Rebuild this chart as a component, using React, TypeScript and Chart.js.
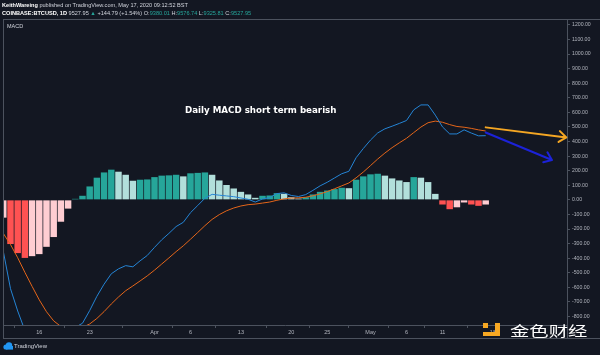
import React, { useEffect, useRef } from "react";
import { Chart, registerables } from "chart.js";

Chart.register(...registerables);

// Day index 0 = 2020-03-11 (daily bars)
const HIST = [
  -122, -303, -365, -398, -386, -372, -322, -255, -150, -60,
  7, 28, 92, 152, 188, 207, 193, 172, 131, 138,
  140, 156, 166, 168, 172, 161, 182, 185, 188, 172,
  133, 102, 78, 55, 37, 14, 28, 30, 46, 41,
  18, 9, 18, 37, 55, 64, 74, 83, 80, 138,
  161, 175, 179, 166, 147, 133, 122, 156, 152, 122,
  41, -32, -64, -51, -18, -32, -41, -32,
];

const MACD = [
  -352, -609, -762, -895, -979, -1058, -1089, -1085, -1018, -943,
  -874, -846, -759, -661, -578, -507, -473, -451, -459, -418,
  -381, -326, -274, -230, -183, -154, -88, -39, 11, 38,
  32, 27, 22, 13, 4, -15, 6, 15, 43, 48,
  30, 23, 36, 65, 96, 121, 150, 179, 196, 289,
  352, 410, 459, 487, 505, 524, 544, 617, 651, 651,
  581, 500, 452, 452, 480, 458, 439, 440,
];

const SIGNAL = [
  -230, -306, -397, -497, -593, -686, -767, -830, -868, -883,
  -881, -874, -851, -813, -766, -714, -666, -623, -590, -556,
  -521, -482, -440, -398, -355, -315, -270, -224, -177, -134,
  -101, -75, -56, -42, -33, -29, -22, -15, -3, 7,
  12, 14, 18, 28, 41, 57, 76, 96, 116, 151,
  191, 235, 280, 321, 358, 391, 422, 461, 499, 529,
  540, 532, 516, 503, 498, 490, 480, 472,
];

const X_TICK_POS = [5, 12, 21, 26, 33, 40, 45, 51, 56, 61, 68];
const X_TICK_LABELS = ["16", "23", "Apr", "6", "13", "20", "25", "May", "6", "11", "18"];

const Y_TICKS = [-800, -700, -600, -500, -400, -300, -200, -100, 0, 100, 200, 300, 400, 500, 600, 700, 800, 900, 1000, 1100, 1200];

const X_MIN = -0.04;
const X_MAX = 78.29;
const Y_MIN = -858;
const Y_MAX = 1240;

// annotation arrows in data units: [x index, value]
const ORANGE_ARROW = [[67, 497], [78.2, 428]];
const BLUE_ARROW = [[67, 462], [76.2, 273]];

const TEAL = "#26a69a";
const TEAL_LIGHT = "#b2dfdb";
const RED = "#ff5252";
const PINK = "#ffcdd2";

function barColors(vals: number[]) {
  return vals.map((v, i) => {
    const prev = i === 0 ? -Infinity : vals[i - 1];
    if (v >= 0) return v > prev ? TEAL : TEAL_LIGHT;
    return v < prev ? RED : PINK;
  });
}

const arrowPlugin = {
  id: "arrows",
  afterDatasetsDraw(chart: any) {
    const { ctx, scales } = chart;
    const xs = scales.x;
    const ys = scales.y;
    const draw = (pts: number[][], color: string) => {
      const x1 = xs.getPixelForValue(pts[0][0]);
      const y1 = ys.getPixelForValue(pts[0][1]);
      const x2 = xs.getPixelForValue(pts[1][0]);
      const y2 = ys.getPixelForValue(pts[1][1]);
      const ang = Math.atan2(y2 - y1, x2 - x1);
      const L = 9;
      ctx.save();
      ctx.strokeStyle = color;
      ctx.lineWidth = 2;
      ctx.lineCap = "round";
      ctx.lineJoin = "round";
      ctx.beginPath();
      ctx.moveTo(x1, y1);
      ctx.lineTo(x2, y2);
      ctx.moveTo(x2 - L * Math.cos(ang - 0.65), y2 - L * Math.sin(ang - 0.65));
      ctx.lineTo(x2, y2);
      ctx.lineTo(x2 - L * Math.cos(ang + 0.65), y2 - L * Math.sin(ang + 0.65));
      ctx.stroke();
      ctx.restore();
    };
    draw(ORANGE_ARROW, "#f4a623");
    draw(BLUE_ARROW, "#1c22d8");
  },
};

export default function App() {
  const ref = useRef<HTMLCanvasElement | null>(null);

  useEffect(() => {
    if (!ref.current) return;
    const xs = HIST.map((_, i) => i);
    const chart = new Chart(ref.current, {
      type: "bar",
      data: {
        datasets: [
          {
            type: "line",
            label: "MACD",
            data: xs.map((x) => ({ x, y: MACD[x] })),
            borderColor: "#2585d6",
            borderWidth: 1,
            pointRadius: 0,
            tension: 0,
            order: 0,
          } as any,
          {
            type: "line",
            label: "Signal",
            data: xs.map((x) => ({ x, y: SIGNAL[x] })),
            borderColor: "#e5661a",
            borderWidth: 1,
            pointRadius: 0,
            tension: 0,
            order: 1,
          } as any,
          {
            type: "bar",
            label: "Histogram",
            data: xs.map((x) => ({ x, y: HIST[x] })),
            backgroundColor: barColors(HIST),
            borderWidth: 0,
            barPercentage: 0.9,
            categoryPercentage: 1,
            order: 2,
          } as any,
        ],
      },
      options: {
        responsive: false,
        animation: false,
        devicePixelRatio: 1,
        layout: { padding: { left: 3, top: 19, right: 0, bottom: 17 } },
        plugins: {
          legend: { display: false },
          tooltip: { enabled: false },
        },
        scales: {
          x: {
            type: "linear",
            min: X_MIN,
            max: X_MAX,
            offset: false,
            afterBuildTicks: (scale: any) => {
              scale.ticks = X_TICK_POS.map((v) => ({ value: v }));
            },
            afterFit: (scale: any) => {
              scale.height = 13;
            },
            ticks: {
              autoSkip: false,
              maxRotation: 0,
              padding: 1,
              color: "#b2b5be",
              font: { size: 5.5, family: "Liberation Sans" },
              callback: (v: any) => {
                const k = X_TICK_POS.indexOf(Number(v));
                return k >= 0 ? X_TICK_LABELS[k] : "";
              },
            },
            grid: {
              display: true,
              drawOnChartArea: false,
              drawTicks: true,
              tickLength: 3,
              color: "#4c525e",
            },
            border: { display: true, color: "#4c525e" },
          },
          y: {
            type: "linear",
            position: "right",
            min: Y_MIN,
            max: Y_MAX,
            afterBuildTicks: (scale: any) => {
              scale.ticks = Y_TICKS.map((v) => ({ value: v }));
            },
            afterFit: (scale: any) => {
              scale.width = 33;
            },
            ticks: {
              autoSkip: false,
              padding: 2,
              color: "#b2b5be",
              font: { size: 5.2, family: "Liberation Sans" },
              callback: (v: any) => Number(v).toFixed(2),
            },
            grid: {
              display: true,
              drawOnChartArea: false,
              drawTicks: true,
              tickLength: 3,
              color: "#4c525e",
            },
            border: { display: true, color: "#4c525e" },
          },
        },
      },
      plugins: [arrowPlugin],
    });
    return () => chart.destroy();
  }, []);

  const line = (s: React.CSSProperties): React.CSSProperties => ({
    position: "absolute",
    background: "#4c525e",
    ...s,
  });

  return (
    <div
      style={{
        position: "fixed",
        left: 0,
        top: 0,
        width: 600,
        height: 355,
        background: "#131722",
        overflow: "hidden",
        fontFamily: "Liberation Sans, Arial, sans-serif",
      }}
    >
      <canvas
        ref={ref}
        width={600}
        height={355}
        style={{ position: "absolute", left: 0, top: 0, width: 600, height: 355 }}
      />
      {/* frame */}
      <div style={line({ left: 3, top: 19, width: 597, height: 1 })} />
      <div style={line({ left: 3, top: 19, width: 1, height: 320 })} />
      <div style={line({ left: 3, top: 338, width: 597, height: 1 })} />
      <div style={line({ left: 567, top: 325, width: 1, height: 14 })} />

      {/* header */}
      <div
        style={{
          position: "absolute",
          left: 2,
          top: 2,
          fontSize: 5.6,
          lineHeight: "7px",
          color: "#d1d4dc",
          whiteSpace: "nowrap",
        }}
      >
        <span style={{ fontWeight: "bold", color: "#ffffff" }}>KeithWareing</span> published on
        TradingView.com, May 17, 2020 09:12:52 BST
      </div>
      <div
        style={{
          position: "absolute",
          left: 2,
          top: 10,
          fontSize: 5.6,
          lineHeight: "7px",
          color: "#d1d4dc",
          whiteSpace: "nowrap",
        }}
      >
        <span style={{ fontWeight: "bold", color: "#ffffff" }}>COINBASE:BTCUSD, 1D</span> 9527.95{" "}
        <span style={{ color: TEAL }}>▲</span> +144.79 (+1.54%) O:
        <span style={{ color: TEAL }}>9380.01</span> H:
        <span style={{ color: TEAL }}>9576.74</span> L:
        <span style={{ color: TEAL }}>9325.81</span> C:
        <span style={{ color: TEAL }}>9527.95</span>
      </div>
      <div
        style={{
          position: "absolute",
          left: 7,
          top: 23,
          fontSize: 5.5,
          lineHeight: "7px",
          color: "#d1d4dc",
        }}
      >
        MACD
      </div>

      {/* annotation */}
      <div
        style={{
          position: "absolute",
          left: 185,
          top: 105,
          fontSize: 8.7,
          lineHeight: "10px",
          fontWeight: "bold",
          fontFamily: "DejaVu Sans, Verdana, sans-serif",
          color: "#ffffff",
          whiteSpace: "nowrap",
        }}
      >
        Daily MACD short term bearish
      </div>

      {/* TradingView footer */}
      <svg
        style={{ position: "absolute", left: 3, top: 342 }}
        width={10}
        height={8}
        viewBox="0 0 10 8"
      >
        <circle cx={3} cy={5} r={2.6} fill="#2196f3" />
        <circle cx={6} cy={3.5} r={3.2} fill="#2196f3" />
        <rect x={3} y={4} width={7} height={3.6} fill="#2196f3" />
      </svg>
      <div
        style={{
          position: "absolute",
          left: 14,
          top: 343,
          fontSize: 6,
          lineHeight: "7px",
          color: "#d1d4dc",
        }}
      >
        TradingView
      </div>

      {/* watermark */}
      <div style={{ position: "absolute", left: 483, top: 323, width: 5, height: 5, background: "#f7a823" }} />
      <div style={{ position: "absolute", left: 495, top: 323, width: 5, height: 13, background: "#f7a823" }} />
      <div style={{ position: "absolute", left: 483, top: 332, width: 17, height: 4, background: "#f7a823" }} />
      <div
        style={{
          position: "absolute",
          left: 510,
          top: 321,
          fontSize: 14,
          lineHeight: "18px",
          color: "#ffffff",
          fontFamily: "Noto Sans CJK SC, sans-serif",
          transform: "scaleX(1.38)",
          transformOrigin: "left top",
          whiteSpace: "nowrap",
        }}
      >
        金色财经
      </div>
    </div>
  );
}
